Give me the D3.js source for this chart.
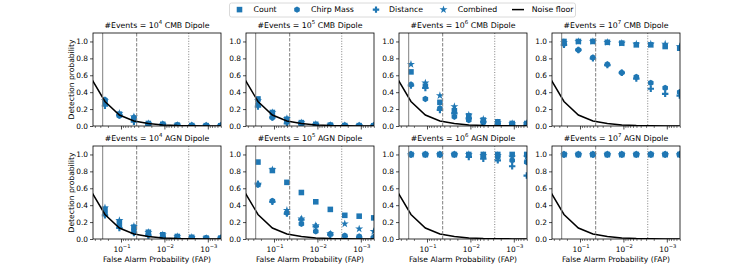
<!DOCTYPE html>
<html><head><meta charset="utf-8">
<script src="https://cdn.jsdelivr.net/npm/d3@7"></script>
<style>body{margin:0;background:#fff} svg{font-family:"DejaVu Sans",sans-serif}</style>
</head><body><svg id="c" width="756" height="270"></svg>
<script>
// ---------- data ----------
const fap = [0.234, 0.109, 0.0504, 0.0234, 0.0109, 0.00504, 0.00234, 0.00109, 0.000504];
const noiseFap = [0.504, 0.234, 0.109, 0.0504, 0.0234, 0.0109, 0.00504, 0.00234, 0.00109, 0.000504];
const noiseFloor = [0.58, 0.29, 0.13, 0.06, 0.03, 0.013, 0.006, 0.003, 0.0013, 0.0006];
const sigmaLines = [0.264, 0.0435, 0.00275];
const eventExps = ["4", "5", "6", "7", "4", "5", "6", "7"];
const dipoles = ["CMB", "CMB", "CMB", "CMB", "AGN", "AGN", "AGN", "AGN"];
const seriesNames = ["Count", "Chirp Mass", "Distance", "Combined"];
const countVals = [
  [0.27, 0.14, 0.08, 0.03, 0.02, 0.01, 0.005, 0.004, 0.003],
  [0.32, 0.16, 0.08, 0.04, 0.02, 0.01, 0.005, 0.004, 0.003],
  [0.64, 0.47, 0.28, 0.18, 0.12, 0.07, 0.05, 0.03, 0.03],
  [1.0, 1.0, 1.0, 0.99, 0.98, 0.96, 0.96, 0.94, 0.92],
  [0.35, 0.20, 0.14, 0.08, 0.05, 0.03, 0.02, 0.01, 0.01],
  [0.91, 0.81, 0.67, 0.55, 0.44, 0.35, 0.28, 0.27, 0.25],
  [1.0, 1.0, 1.0, 1.0, 1.0, 1.0, 1.0, 1.0, 1.0],
  [1.0, 1.0, 1.0, 1.0, 1.0, 1.0, 1.0, 1.0, 1.0]
];
const chirpVals = [
  [0.31, 0.12, 0.10, 0.02, 0.02, 0.01, 0.005, 0.003, 0.003],
  [0.25, 0.10, 0.05, 0.03, 0.01, 0.008, 0.004, 0.003, 0.002],
  [0.49, 0.32, 0.21, 0.11, 0.07, 0.04, 0.02, 0.02, 0.02],
  [0.97, 0.90, 0.81, 0.73, 0.63, 0.58, 0.51, 0.45, 0.40],
  [0.30, 0.15, 0.10, 0.05, 0.03, 0.02, 0.01, 0.01, 0.005],
  [0.64, 0.45, 0.31, 0.18, 0.09, 0.06, 0.04, 0.03, 0.02],
  [1.0, 1.0, 1.0, 1.0, 0.99, 0.98, 0.97, 0.93, 0.91],
  [1.0, 1.0, 1.0, 1.0, 1.0, 1.0, 1.0, 1.0, 1.0]
];
const distVals = [
  [0.24, 0.13, 0.05, 0.02, 0.01, 0.005, 0.003, 0.002, 0.002],
  [0.23, 0.10, 0.03, 0.02, 0.01, 0.005, 0.003, 0.002, 0.002],
  [0.48, 0.45, 0.19, 0.15, 0.09, 0.05, 0.03, 0.02, 0.02],
  [0.96, 0.90, 0.80, 0.72, 0.63, 0.56, 0.44, 0.38, 0.36],
  [0.28, 0.13, 0.07, 0.04, 0.02, 0.01, 0.01, 0.005, 0.005],
  [0.65, 0.44, 0.30, 0.23, 0.15, 0.05, 0.03, 0.02, 0.02],
  [1.0, 1.0, 1.0, 1.0, 0.97, 0.95, 0.93, 0.86, 0.75],
  [1.0, 1.0, 1.0, 1.0, 1.0, 1.0, 1.0, 1.0, 1.0]
];
const combVals = [
  [0.30, 0.15, 0.11, 0.03, 0.02, 0.01, 0.005, 0.004, 0.003],
  [0.30, 0.16, 0.09, 0.04, 0.02, 0.01, 0.005, 0.004, 0.003],
  [0.73, 0.51, 0.36, 0.23, 0.13, 0.08, 0.04, 0.03, 0.03],
  [0.99, 1.0, 1.0, 0.99, 0.98, 0.97, 0.97, 0.97, 0.94],
  [0.37, 0.22, 0.15, 0.08, 0.05, 0.03, 0.02, 0.01, 0.01],
  [0.65, 0.82, 0.34, 0.24, 0.16, 0.06, 0.18, 0.12, 0.09],
  [1.0, 1.0, 1.0, 1.0, 1.0, 0.99, 0.99, 0.97, 0.97],
  [1.0, 1.0, 1.0, 1.0, 1.0, 1.0, 1.0, 1.0, 1.0]
];
const yTicks = [0, 0.2, 0.4, 0.6, 0.8, 1.0];
const xMajorTicks = [1e-1, 1e-2, 1e-3];
const xMajorExps = ["\u22121", "\u22122", "\u22123"];

// ---------- layout ----------
const svg = d3.select("#c");
const colLeft = [93, 246, 399, 552], rowTop = [33, 146];
const W = 128, H = 93;
const blue = "#1f77b4";
const x = d3.scaleLog().domain([Math.pow(10, -0.355), Math.pow(10, -3.304)]).range([0, W]);
const y = d3.scaleLinear().domain([0, 1.1]).range([H, 0]);

const symHex = {draw(ctx, size) {
  const r = Math.sqrt(size / (3 * Math.sqrt(3) / 2));
  for (let i = 0; i < 6; i++) {
    const a = Math.PI / 3 * i - Math.PI / 2;
    const px = r * Math.cos(a), py = r * Math.sin(a);
    if (i === 0) ctx.moveTo(px, py); else ctx.lineTo(px, py);
  }
  ctx.closePath();
}};
const symbols = [
  d3.symbol().type(d3.symbolSquare).size(31),
  d3.symbol().type(symHex).size(27),
  d3.symbol().type(d3.symbolCross).size(23),
  d3.symbol().type(d3.symbolStar).size(20)
];
const allSeries = [countVals, chirpVals, distVals, combVals];
const minorTicks = [];
for (let e = -1; e >= -4; e--) for (let m = 1; m <= 9; m++) {
  const v = m * Math.pow(10, e);
  if (m > 1 && v <= x.domain()[0] && v >= x.domain()[1]) minorTicks.push(v);
}
const defs = svg.append("defs");

for (let p = 0; p < 8; p++) {
  const col = p % 4, row = Math.floor(p / 4);
  const g = svg.append("g").attr("transform", `translate(${colLeft[col]},${rowTop[row]})`);
  defs.append("clipPath").attr("id", "clip" + p).append("rect").attr("width", W).attr("height", H);
  const plot = g.append("g").attr("clip-path", `url(#clip${p})`);

  // markers
  allSeries.forEach((vals, s) => {
    plot.selectAll(null).data(vals[p]).enter().append("path")
      .attr("d", symbols[s]())
      .attr("transform", (d, i) => `translate(${x(fap[i])},${y(d)})`)
      .attr("fill", blue);
  });
  // noise floor
  plot.append("path")
    .datum(noiseFloor.map((v, i) => [noiseFap[i], v]))
    .attr("d", d3.line().x(d => x(d[0])).y(d => y(d[1])))
    .attr("fill", "none").attr("stroke", "black").attr("stroke-width", 1.5);
  // sigma lines
  const dashes = [null, "3.5,1.5", "1,1.6"];
  sigmaLines.forEach((v, i) => {
    plot.append("line").attr("x1", x(v)).attr("x2", x(v)).attr("y1", 0).attr("y2", H)
      .attr("stroke", "#808080").attr("stroke-width", 1)
      .attr("stroke-dasharray", dashes[i]);
  });

  // y axis
  const ya = g.append("g").call(d3.axisLeft(y).tickValues(yTicks).tickSize(3).tickPadding(2).tickFormat(d3.format(".1f")));
  ya.select(".domain").remove();
  ya.selectAll("text").attr("font-size", 7.4).attr("font-family", "DejaVu Sans").attr("fill", "#000");
  ya.selectAll("line").attr("stroke-width", 0.7);

  // x axis
  const xa = g.append("g").attr("transform", `translate(0,${H})`)
    .call(d3.axisBottom(x).tickValues(xMajorTicks).tickSize(3.5).tickPadding(2).tickFormat(""));
  xa.select(".domain").remove();
  xa.selectAll("line").attr("stroke-width", 0.7);
  const xm = g.append("g").attr("transform", `translate(0,${H})`)
    .call(d3.axisBottom(x).tickValues(minorTicks).tickSize(2).tickFormat(""));
  xm.select(".domain").remove();
  xm.selectAll("line").attr("stroke-width", 0.5);
  if (row === 1) {
    xMajorTicks.forEach((v, i) => {
      const t = g.append("text").attr("x", x(v) + 1).attr("y", H + 12.5)
        .attr("text-anchor", "middle").attr("font-size", 7.4).attr("fill", "#000");
      t.append("tspan").text("10");
      t.append("tspan").attr("dy", -3.2).attr("font-size", 5.2).text(xMajorExps[i]);
    });
    g.append("text").attr("x", W / 2).attr("y", H + 23).attr("text-anchor", "middle")
      .attr("font-size", 7.6).text("False Alarm Probability (FAP)");
  }
  if (col === 0) {
    g.append("text").attr("transform", `translate(${-22},${H / 2}) rotate(-90)`)
      .attr("text-anchor", "middle").attr("dy", "0.35em").attr("font-size", 7.6).text("Detection probability");
  }
  // frame
  g.append("rect").attr("width", W).attr("height", H).attr("fill", "none")
    .attr("stroke", "#000").attr("stroke-width", 0.8);
  // title
  const tt = g.append("text").attr("x", W / 2).attr("y", -5.5).attr("text-anchor", "middle").attr("font-size", 7.8);
  tt.append("tspan").text("#Events = 10");
  tt.append("tspan").attr("dy", -3.2).attr("font-size", 5.4).text(eventExps[p]);
  tt.append("tspan").attr("dy", 3.2).text(" " + dipoles[p] + " Dipole");
}

// legend
const lg = svg.append("g");
lg.append("rect").attr("x", 229.5).attr("y", 3).attr("width", 346).attr("height", 14).attr("rx", 2)
  .attr("fill", "#fff").attr("stroke", "#d0d0d0").attr("stroke-width", 0.8);
const legMarkX = [239.5, 297, 376, 443.5];
const legTextX = [253.5, 311, 389, 457.7];
seriesNames.forEach((n, i) => {
  lg.append("path").attr("d", symbols[i]()).attr("transform", `translate(${legMarkX[i]},9.6)`).attr("fill", blue);
  lg.append("text").attr("x", legTextX[i]).attr("y", 12.4).attr("font-size", 7.8).text(n);
});
lg.append("line").attr("x1", 512).attr("x2", 524).attr("y1", 9.6).attr("y2", 9.6).attr("stroke", "#000").attr("stroke-width", 1.5);
lg.append("text").attr("x", 531.7).attr("y", 12.4).attr("font-size", 7.8).text("Noise floor");
</script></body></html>
